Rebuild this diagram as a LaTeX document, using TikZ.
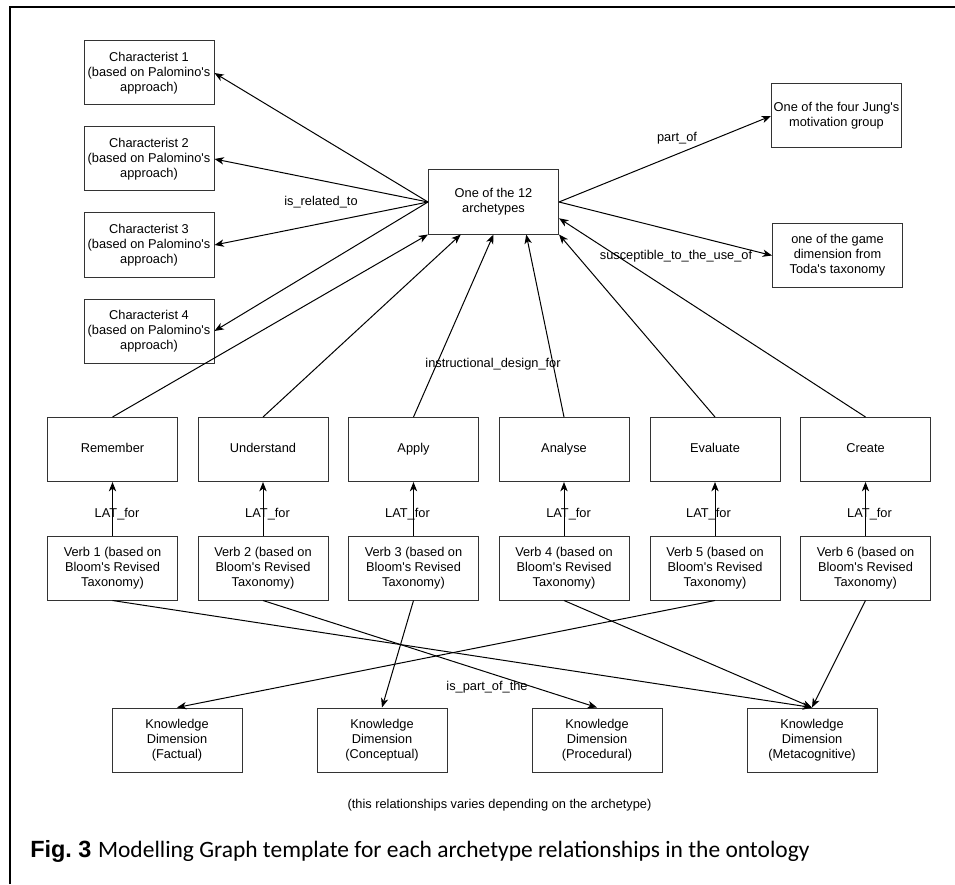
\documentclass[tikz,border=0pt]{standalone}
\usepackage{fontspec}
\newfontfamily\diafont{Liberation Sans}
\newfontfamily\capfont{Carlito}
\usetikzlibrary{arrows.meta,calc}

\tikzset{
  box/.style={draw=black!80, line width=0.75pt, minimum width=97.5pt, minimum height=48pt, align=center, inner sep=1pt},
  level/.style={box, text height=7pt, text depth=2pt},
  rel/.style={-{Stealth[length=7pt,width=5.5pt,inset=2pt]}, line width=0.75pt},
  lbl/.style={inner sep=0pt},
}

\begin{document}
\begin{tikzpicture}[x=0.75pt, y=-0.75pt, font=\diafont\fontsize{9.6pt}{11.25pt}\selectfont]
  \useasboundingbox (0,0) rectangle (955,884);
  \draw[line width=1.5pt] (10,884) -- (10,7) -- (955,7);

  % archetype and what hangs on it
  \node[box] (arch) at (493.5,202) {One of the 12\\archetypes};
  \node[box] (char1) at (149,73) {Characterist 1\\(based on Palomino's\\approach)};
  \node[box] (char2) at (149,159) {Characterist 2\\(based on Palomino's\\approach)};
  \node[box] (char3) at (149,245) {Characterist 3\\(based on Palomino's\\approach)};
  \node[box] (char4) at (149,331) {Characterist 4\\(based on Palomino's\\approach)};
  \node[box] (jung) at (836.5,116) {One of the four Jung's\\motivation group};
  \node[box] (toda) at (837.5,255.5) {one of the game\\dimension from\\Toda's taxonomy};

  % Bloom levels
  \node[level] (remember) at (112.5,449.5) {Remember};
  \node[level] (understand) at (263,449.5) {Understand};
  \node[level] (apply) at (413.5,449.5) {Apply};
  \node[level] (analyse) at (564,449.5) {Analyse};
  \node[level] (evaluate) at (715,449.5) {Evaluate};
  \node[level] (create) at (865.5,449.5) {Create};

  % verbs
  \node[box] (verb1) at (112.5,568) {Verb 1 (based on\\Bloom's Revised\\Taxonomy)};
  \node[box] (verb2) at (263,568) {Verb 2 (based on\\Bloom's Revised\\Taxonomy)};
  \node[box] (verb3) at (413.5,568) {Verb 3 (based on\\Bloom's Revised\\Taxonomy)};
  \node[box] (verb4) at (564,568) {Verb 4 (based on\\Bloom's Revised\\Taxonomy)};
  \node[box] (verb5) at (715,568) {Verb 5 (based on\\Bloom's Revised\\Taxonomy)};
  \node[box] (verb6) at (865.5,568) {Verb 6 (based on\\Bloom's Revised\\Taxonomy)};

  % knowledge dimensions
  \node[box] (kfact) at (177,740) {Knowledge\\Dimension\\(Factual)};
  \node[box] (kconc) at (382,740) {Knowledge\\Dimension\\(Conceptual)};
  \node[box] (kproc) at (597,740) {Knowledge\\Dimension\\(Procedural)};
  \node[box] (kmeta) at (812,740) {Knowledge\\Dimension\\(Metacognitive)};

  \draw[rel] (arch.west) -- (char1.east);
  \draw[rel] (arch.west) -- (char2.east);
  \draw[rel] (arch.west) -- (char3.east);
  \draw[rel] (arch.west) -- (char4.east);
  \draw[rel] (arch.east) -- (jung.west);
  \draw[rel] (arch.east) -- (toda.west);

  \draw[rel] (remember.north) -- (arch.south west);
  \draw[rel] (understand.north) -- ($(arch.south west)!0.25!(arch.south east)$);
  \draw[rel] (apply.north) -- (arch.south);
  \draw[rel] (analyse.north) -- ($(arch.south west)!0.75!(arch.south east)$);
  \draw[rel] (evaluate.north) -- (arch.south east);
  \draw[rel] (create.north) -- ($(arch.north east)!0.75!(arch.south east)$);

  \draw[rel] (verb1.north) -- (remember.south) node[lbl, pos=0.4, xshift=3.4pt] (lat1) {LAT\_for};
  \draw[rel] (verb2.north) -- (understand.south) node[lbl, pos=0.4, xshift=3.4pt] (lat2) {LAT\_for};
  \draw[rel] (verb3.north) -- (apply.south) node[lbl, pos=0.4, xshift=-4.5pt] (lat3) {LAT\_for};
  \draw[rel] (verb4.north) -- (analyse.south) node[lbl, pos=0.4, xshift=3.4pt] (lat4) {LAT\_for};
  \draw[rel] (verb5.north) -- (evaluate.south) node[lbl, pos=0.4, xshift=-4.9pt] (lat5) {LAT\_for};
  \draw[rel] (verb6.north) -- (create.south) node[lbl, pos=0.4, xshift=3pt] (lat6) {LAT\_for};

  \draw[rel] (verb1.south) -- (kmeta.north);
  \draw[rel] (verb2.south) -- (kproc.north);
  \draw[rel] (verb3.south) -- (kconc.north);
  \draw[rel] (verb4.south) -- (kmeta.north);
  \draw[rel] (verb5.south) -- (kfact.north);
  \draw[rel] (verb6.south) -- (kmeta.north);

  % relation names
  \node[lbl] (relto) at (321,202) {is\_related\_to};
  \node[lbl] (partof) at (677,138) {part\_of};
  \node[lbl] (suscept) at (676,256) {susceptible\_to\_the\_use\_of};
  \node[lbl] (instr) at (493,364) {instructional\_design\_for};
  \node[lbl] (partofthe) at (487,687) {is\_part\_of\_the};
  \node[lbl] (note) at (499.5,805) {(this relationships varies depending on the archetype)};

  \node[anchor=base west, inner sep=0pt] (caption) at (30,857) {\fontsize{17.6pt}{21pt}\selectfont\textbf{Fig.\ 3} {\capfont Modelling Graph template for each archetype relationships in the ontology}};
\end{tikzpicture}
\end{document}
